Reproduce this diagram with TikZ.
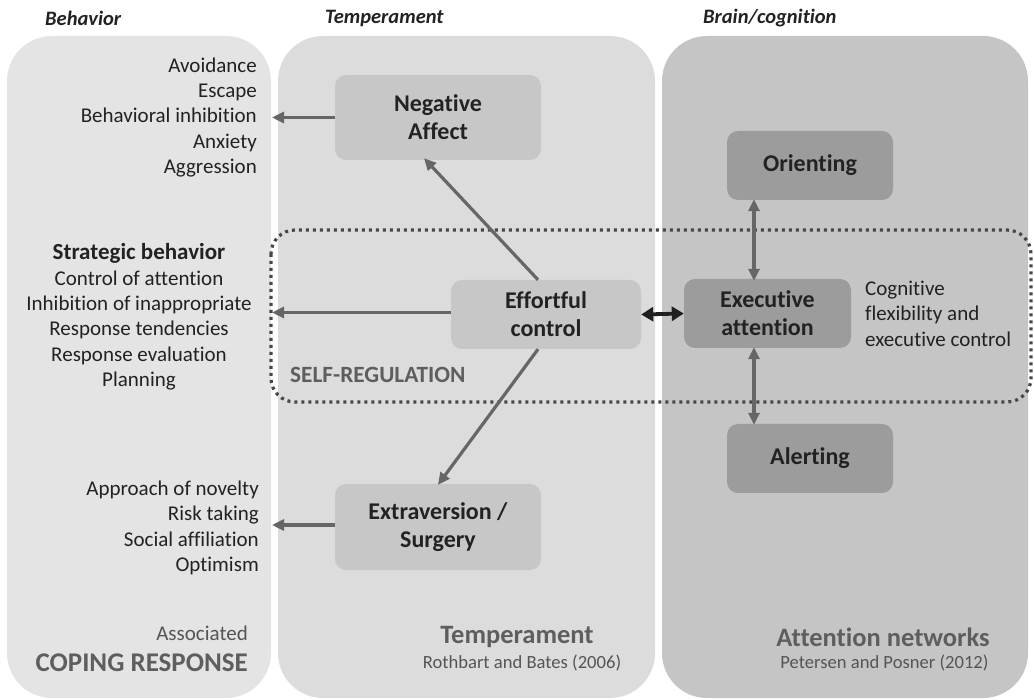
\documentclass[tikz,border=0pt]{standalone}
\usepackage{fontspec}
\setmainfont{Carlito}[Ligatures=NoCommon]
\usetikzlibrary{arrows.meta}
\definecolor{panelA}{HTML}{E4E4E4}
\definecolor{panelB}{HTML}{DCDCDC}
\definecolor{panelC}{HTML}{C5C5C5}
\definecolor{boxB}{HTML}{C7C7C7}
\definecolor{boxC}{HTML}{9C9C9C}
\definecolor{inkdark}{HTML}{222222}
\definecolor{inkgray}{HTML}{5E5E5E}
\definecolor{inkcite}{HTML}{555555}
\definecolor{arrowgray}{HTML}{666666}
\definecolor{dotgray}{HTML}{474747}
\newcommand{\fs}[2]{\fontsize{#1}{#2}\selectfont}
\begin{document}
\begin{tikzpicture}[x=1pt,y=-1pt,
  panel/.style={rectangle, rounded corners=45pt, inner sep=0pt, draw=none},
  box/.style={rectangle, rounded corners=11pt, inner sep=0pt, align=center,
    text=inkdark, font=\fs{24}{28}\bfseries},
  header/.style={anchor=west, inner sep=0pt, text=inkdark, font=\fs{20.5}{24}\bfseries\itshape},
  listtext/.style={inner sep=0pt, text=inkdark, font=\fs{21}{25.4}},
  graytitle/.style={inner sep=0pt, text=inkgray, font=\fs{26.5}{30}\bfseries},
  citetext/.style={inner sep=0pt, text=inkcite, font=\fs{18.6}{22}},
  conn/.style={draw=arrowgray, line width=3.2pt, -{Triangle[length=12pt,width=11pt]}},
  twoway/.style={draw=arrowgray, line width=3.2pt, {Triangle[length=12pt,width=11pt]}-{Triangle[length=12pt,width=11pt]}},
  strongtwoway/.style={draw=black!88, line width=3.8pt, {Triangle[length=12pt,width=14pt]}-{Triangle[length=12pt,width=14pt]}}
]
\useasboundingbox (0,0) rectangle (1034,700);
\fill[white] (0,0) rectangle (1034,700);

% three columns
\node[panel, fill=panelA, minimum width=264pt, minimum height=662pt] (behav) at (139,367) {};
\node[panel, fill=panelB, minimum width=377pt, minimum height=662pt] (temper) at (466.5,367) {};
\node[panel, fill=panelC, minimum width=366pt, minimum height=662pt] (brain) at (845,367) {};

% column headers
\node[header] (hB) at (45,18) {Behavior};
\node[header] (hT) at (325,18) {Temperament};
\node[header] (hC) at (703,18) {Brain/cognition};

% self-regulation frame
\draw[dotgray, line width=3.2pt, dash pattern=on 3pt off 4pt, rounded corners=24pt]
  (271,230) rectangle (1031,402);
\node[anchor=west, inner sep=0pt, text=inkgray, font=\fs{23.3}{26}\bfseries] (selfreg) at (290,375) {SELF-REGULATION};

% temperament boxes
\node[box, fill=boxB, minimum width=206pt, minimum height=85pt] (neg) at (438,117.5) {Negative\\Affect};
\node[box, fill=boxB, minimum width=190pt, minimum height=69pt] (eff) at (546,314.5) {Effortful\\control};
\node[box, fill=boxB, minimum width=206pt, minimum height=86pt] (extra) at (438,527) {Extraversion /\\Surgery};

% attention network boxes
\node[box, fill=boxC, minimum width=166pt, minimum height=69pt] (orient) at (810,165.5) {Orienting};
\node[box, fill=boxC, minimum width=167pt, minimum height=69pt] (exec) at (767.5,313.5) {Executive\\attention};
\node[box, fill=boxC, minimum width=166pt, minimum height=69pt] (alert) at (810,458.5) {Alerting};

% behaviour lists
\node[listtext, align=right, anchor=east] (negresp) at (257,117.5)
  {Avoidance\\Escape\\Behavioral inhibition\\Anxiety\\Aggression};
\node[listtext, align=center] (stratresp) at (139,317)
  {{\fs{23}{26}\bfseries Strategic behavior}\\Control of attention\\Inhibition of inappropriate\\Response tendencies\\Response evaluation\\Planning};
\node[listtext, align=right, anchor=east] (extraresp) at (259,528)
  {Approach of novelty\\Risk taking\\Social affiliation\\Optimism};
\node[listtext, align=left, anchor=west] (cogflex) at (865,313.5)
  {Cognitive\\flexibility and\\executive control};

% column footers
\node[inner sep=0pt, anchor=east, text=inkcite, font=\fs{21}{25}] (assoc) at (248,633) {Associated};
\node[graytitle, anchor=east, font=\fs{27}{30}\bfseries] (coping) at (248,663) {COPING RESPONSE};
\node[graytitle] (tempT) at (517,637) {Temperament};
\node[citetext] (tempC) at (522,663) {Rothbart and Bates (2006)};
\node[graytitle] (attT) at (883,637) {Attention networks};
\node[citetext] (attC) at (884.5,663) {Petersen and Posner (2012)};

% connectors
\coordinate (lefttip) at (272,0);
\coordinate (vx) at (754,0);
\draw[conn] (neg.west) -- (neg.west -| lefttip);
\draw[conn] ([yshift=2pt]eff.west) -- ([yshift=2pt]eff.west -| lefttip);
\draw[conn] ([yshift=2pt]extra.west) -- ([yshift=2pt]extra.west -| lefttip);
\draw[conn] ([xshift=-8pt]eff.north) -- ([xshift=-14pt,yshift=2pt]neg.south);
\draw[conn] ([xshift=-8pt]eff.south) -- ([yshift=-1pt]extra.north);
\draw[strongtwoway] (eff.east) -- (exec.west);
\draw[twoway] ([yshift=1pt]orient.south -| vx) -- ([yshift=-2pt]exec.north -| vx);
\draw[twoway] ([yshift=1pt]exec.south -| vx) -- ([yshift=-1pt]alert.north -| vx);
\end{tikzpicture}
\end{document}
